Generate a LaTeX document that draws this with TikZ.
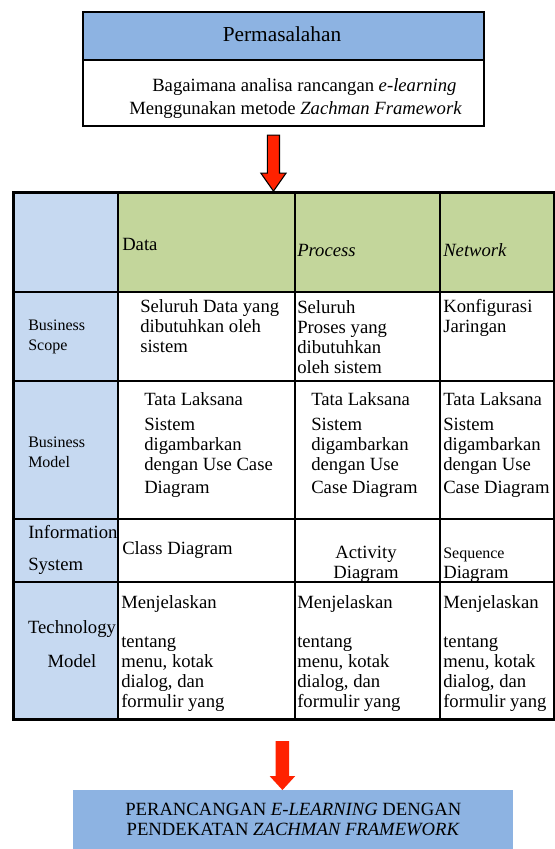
\documentclass[tikz,border=0pt]{standalone}
\usepackage{fontspec}
\setmainfont{Liberation Serif}
\usetikzlibrary{shapes.arrows,positioning,calc}
\definecolor{probblue}{HTML}{8DB3E2}
\definecolor{rowblue}{HTML}{C6D9F1}
\definecolor{colgreen}{HTML}{C3D69B}
\definecolor{arrowred}{HTML}{FF2200}

\begin{document}
\begin{tikzpicture}[x=0.75pt,y=-0.75pt]
\tikzstyle{every node}+=[inner sep=0pt]
\tikzset{
  txt/.style={font=\fontsize{14}{15}\selectfont, align=left, anchor=base west},
  smalltxt/.style={font=\fontsize{12}{15}\selectfont, align=left, anchor=base west},
  tabline/.style={line width=2pt},
  downarrow/.style={single arrow, rotate=-90, inner xsep=0pt, single arrow head indent=0pt}
}
\useasboundingbox (0,0) rectangle (554,849);

% Permasalahan
\fill [probblue] (82,11) rectangle (483,60);
\node [draw, line width=1.2pt, minimum width=300.75pt, minimum height=85.5pt, anchor=north west] (prob) at (82,11) {};
\draw [line width=1.2pt] (82,60) -- (483,60);
\node [font=\fontsize{16}{18}\selectfont, anchor=base] (probttl) at (282,42) {Permasalahan};
\node [txt] (probq1) at (152,92) {Bagaimana analisa rancangan \textit{e-learning}};
\node [txt] (probq2) at (129,114) {Menggunakan metode \textit{Zachman Framework}};

% Zachman table
\fill [rowblue] (12,191) rectangle (118,718);
\fill [colgreen] (118,191) rectangle (552.5,292);
\node [draw, tabline, minimum width=405.4pt, minimum height=395.25pt, anchor=north west] (zf) at (12,191) {};
\foreach \cx in {118,295,440}
  \draw [tabline] (\cx,191) -- (\cx,718);
\foreach \ry in {292,381,519,582}
  \draw [tabline] (12,\ry) -- (552.5,\ry);

\node [downarrow, draw=black, fill=arrowred, line width=0.8pt, inner ysep=4.125pt, single arrow head extend=4.875pt, single arrow tip angle=70, minimum height=42pt] (arrA) at ($(prob.south)!.5!(zf.north)+(-10,0)$) {};

% header (multi-line texts: y is the last baseline)
\node [txt] (hdata) at (122,250) {Data};
\node [txt] (hproc) at (297,256) {\textit{Process}};
\node [txt] (hnet) at (443,256) {\textit{Network}};

% row labels
\node [smalltxt] (rscope) at (28,350) {Business\\Scope};
\node [smalltxt] (rbmodel) at (28,467) {Business\\Model};
\node [txt] (rinfo) at (28,570) {Information\\[9pt]System};
\node [txt, align=center, anchor=base] (rtech) at (72,667) {Technology\\[10.5pt]Model};

% cells
\node [txt] (c11) at (140,352) {Seluruh Data yang\\dibutuhkan oleh\\sistem};
\node [txt] (c12) at (297,373) {Seluruh\\Proses yang\\dibutuhkan\\oleh sistem};
\node [txt] (c13) at (443,332) {Konfigurasi\\Jaringan};
\node [txt] (c21) at (144,493) {Tata Laksana\\[3.75pt]Sistem\\digambarkan\\dengan Use Case\\[2.25pt]Diagram};
\node [txt] (c22) at (311,493) {Tata Laksana\\[3.75pt]Sistem\\digambarkan\\dengan Use\\[2.25pt]Case Diagram};
\node [txt] (c23) at (443,493) {Tata Laksana\\[3.75pt]Sistem\\digambarkan\\dengan Use\\[2.25pt]Case Diagram};
\node [txt] (c31) at (122,554) {Class Diagram};
\node [txt, align=center, anchor=base] (c32) at (366,578) {Activity\\Diagram};
\node [txt] (c33) at (443,578) {{\fontsize{12}{15}\selectfont Sequence}\\Diagram};
\node [txt] (c41) at (121,707) {Menjelaskan\\[14.25pt]tentang\\menu, kotak\\dialog, dan\\formulir yang};
\node [txt] (c42) at (297,707) {Menjelaskan\\[14.25pt]tentang\\menu, kotak\\dialog, dan\\formulir yang};
\node [txt] (c43) at (443,707) {Menjelaskan\\[14.25pt]tentang\\menu, kotak\\dialog, dan\\formulir yang};

% hasil
\node [fill=probblue, minimum width=330pt, minimum height=44.25pt, align=center, font=\fontsize{14}{15}\selectfont, anchor=north west] (goal) at (73,790) {PERANCANGAN \textit{E-LEARNING} DENGAN\\PENDEKATAN \textit{ZACHMAN FRAMEWORK}};
\node [downarrow, fill=arrowred, inner ysep=4.875pt, single arrow head extend=4.5pt, single arrow tip angle=85, minimum height=36.75pt] (arrB) at ($(zf.south)!.5!(goal.north)+(-6,6.5)$) {};
\end{tikzpicture}
\end{document}
